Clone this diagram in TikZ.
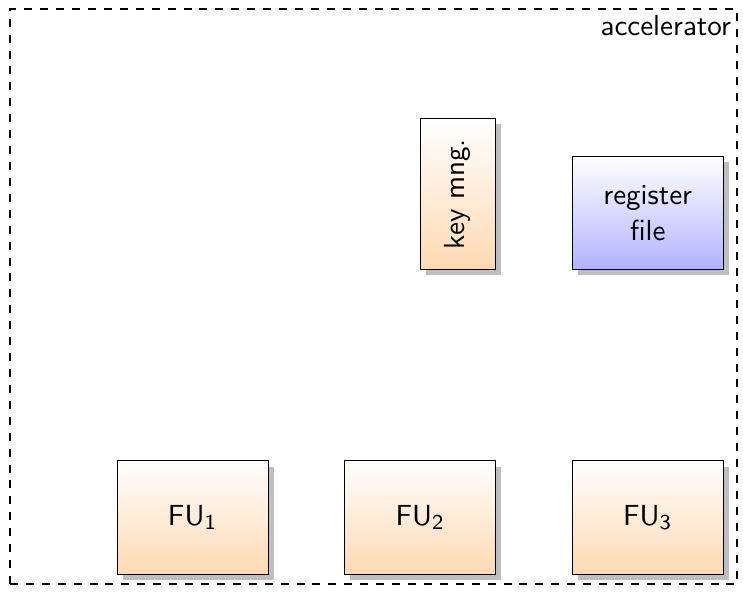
\documentclass[tikz,border=0pt]{standalone}
\usepackage{tikz}
\usetikzlibrary{positioning,shadows,calc}
\newcommand{\unitfont}{\fontsize{10.95}{13.6}\selectfont\sffamily}
\tikzset{
unit/.style={draw=black,rectangle,minimum width=2cm,minimum height=1.5cm,
  top color=white,bottom color=orange!30,drop shadow,font=\unitfont,align=center},
tallunit/.style={unit,minimum width=1cm,minimum height=2cm},
regfile/.style={unit,bottom color=blue!30},
frame/.style={dashed,thick},
}
\begin{document}
\begin{tikzpicture}
\useasboundingbox (-2.55,-1.0) rectangle (7.29,6.854);
\node[unit] (fu1) at (0,0) {FU\textsubscript{1}};
\node[unit,right=1cm of fu1] (fu2) {FU\textsubscript{2}};
\node[unit,right=1cm of fu2] (fu3) {FU\textsubscript{3}};
\node[regfile,above=2.52cm of fu3] (reg) {register\\file};
\node[tallunit,left=1cm of reg.south west,anchor=south east] (key)
  {\rotatebox{90}{key mng.}};
% accelerator border
\coordinate (sw) at (-2.42,-0.88);
\coordinate (ne) at (7.21,6.73);
\draw[frame] (sw) rectangle (ne);
\node[anchor=north east,font=\unitfont,inner sep=2pt] (acc) at (ne) {accelerator};
\end{tikzpicture}
\end{document}
